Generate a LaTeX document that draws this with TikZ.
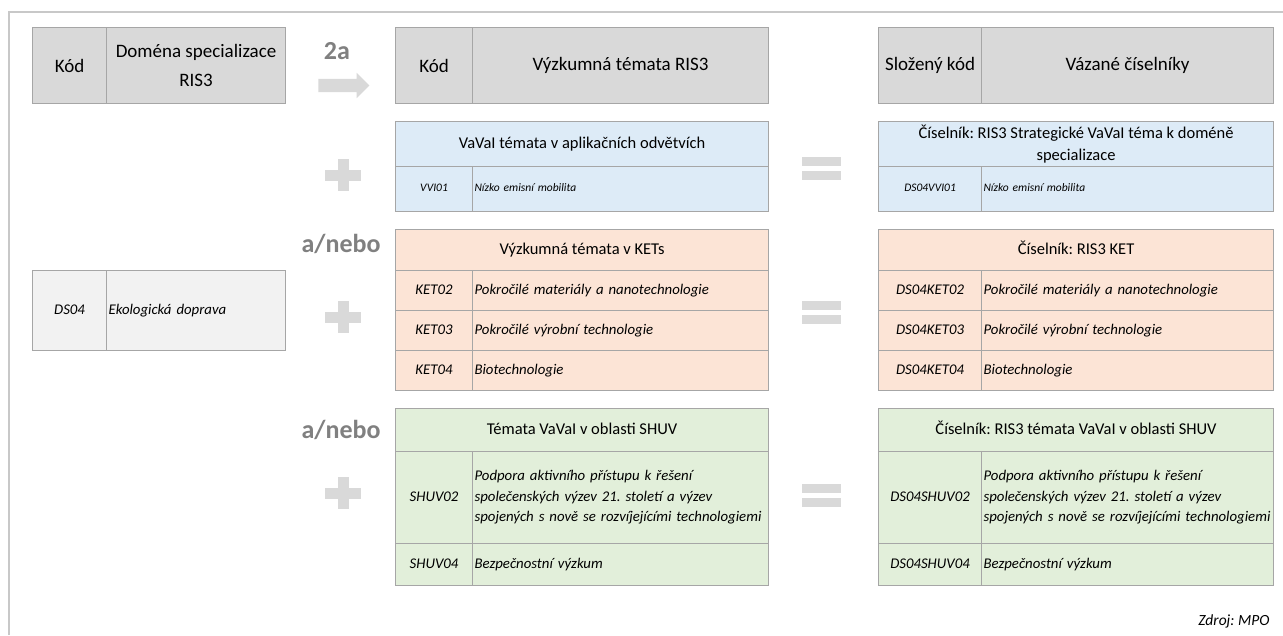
\documentclass[tikz,border=0pt]{standalone}
\usepackage{fontspec}
\setmainfont{Carlito}
\usepackage{xcolor}
\usepackage{tikz}
\usetikzlibrary{positioning,shapes.arrows}
\frenchspacing

\definecolor{framegray}{RGB}{200,200,200}
\definecolor{cellline}{RGB}{166,166,166}
\definecolor{headgray}{RGB}{217,217,217}
\definecolor{domaingray}{RGB}{242,242,242}
\definecolor{vviblue}{RGB}{221,235,247}
\definecolor{ketorange}{RGB}{252,228,214}
\definecolor{shuvgreen}{RGB}{226,239,218}
\definecolor{signgray}{RGB}{217,217,217}
\definecolor{wordgray}{RGB}{128,128,128}

\tikzset{
  cell/.style={draw=cellline, line width=1.1pt, anchor=north west, inner sep=0pt},
  headcell/.style={cell, fill=headgray, minimum height=76,
    font=\fontsize{19}{29}\selectfont, align=center},
  titlelines/.style={cell, font=\fontsize{16.5}{22}\selectfont, align=center},
  titlecell/.style={titlelines, text height=12.4pt, text depth=4.1pt},
  codecell/.style={cell, font=\fontsize{14.8}{20}\selectfont\itshape,
    text height=11pt, text depth=3.7pt},
  desclines/.style={cell, inner xsep=2pt, align=left,
    font=\fontsize{14.8}{20.5}\selectfont\itshape},
  desccell/.style={desclines, text height=11pt, text depth=3.7pt},
  smallcell/.style={font=\fontsize{11.5}{14}\selectfont\itshape,
    text height=8.6pt, text depth=2.9pt},
  sign/.style={fill=signgray},
  joinword/.style={text=wordgray, font=\fontsize{26}{26}\selectfont\bfseries}
}

\begin{document}
\begin{tikzpicture}[x=1pt, y=-1pt]
  \useasboundingbox (0,0) rectangle (1283,635);
  \fill[white] (0,0) rectangle (1283,635);

  % Frame
  \draw[framegray, line width=1.2pt] (9,635) -- (9,12) -- (1283,12);

  % Header row
  \node[headcell, minimum width=74] (dkod) at (32,27) {Kód};
  \node[headcell, minimum width=179] (dnazev) at (106,27) {Doména specializace\\RIS3};
  \node[headcell, minimum width=77] (tkod) at (395,27) {Kód};
  \node[headcell, minimum width=296] (tnazev) at (472,27) {Výzkumná témata RIS3};
  \node[headcell, minimum width=103] (skod) at (878,27) {Složený kód};
  \node[headcell, minimum width=292] (snazev) at (981,27) {Vázané číselníky};

  % 2a arrow
  \node[joinword] (step2a) at (337,51) {2a};
  \node[single arrow, sign, inner xsep=0pt, inner ysep=6.5pt, minimum height=51,
    minimum width=25, single arrow head extend=6pt] (arrow2a) at (340.5,85.5) {};

  % Domain
  \node[codecell, fill=domaingray, minimum width=74, minimum height=80] (ds04) at (32,270) {DS04};
  \node[desccell, fill=domaingray, text width=175, minimum height=80] (ds04n) at (106,270) {Ekologická doprava};

  % VaVaI themes (blue)
  \node[titlecell, fill=vviblue, minimum width=373, minimum height=45] (vvi) at (395,121)
    {VaVaI témata v aplikačních odvětvích};
  \node[codecell, smallcell, fill=vviblue, minimum width=77, minimum height=45] (vvi01) at (395,166) {VVI01};
  \node[desccell, smallcell, fill=vviblue, text width=292, minimum height=45] (vvi01n) at (472,166)
    {Nízko emisní mobilita};
  \node[titlelines, fill=vviblue, minimum width=395, minimum height=45] (cvvi) at (878,121)
    {Číselník: RIS3 Strategické VaVaI téma k doméně\\specializace};
  \node[codecell, smallcell, fill=vviblue, minimum width=103, minimum height=45] (cvvi01) at (878,166) {DS04VVI01};
  \node[desccell, smallcell, fill=vviblue, text width=288, minimum height=45] (cvvi01n) at (981,166)
    {Nízko emisní mobilita};

  % KETs (orange)
  \node[joinword] (anebo1) at (341,244) {a/nebo};
  \node[titlecell, fill=ketorange, minimum width=373, minimum height=41] (ket) at (395,229)
    {Výzkumná témata v KETs};
  \node[titlecell, fill=ketorange, minimum width=395, minimum height=41] (cket) at (878,229)
    {Číselník: RIS3 KET};
  \foreach \n/\y/\txt in {02/270/Pokročilé materiály a nanotechnologie,
                          03/310/Pokročilé výrobní technologie,
                          04/350/Biotechnologie} {
    \node[codecell, fill=ketorange, minimum width=77, minimum height=40] (ket\n) at (395,\y) {KET\n};
    \node[desccell, fill=ketorange, text width=292, minimum height=40] (ket\n n) at (472,\y) {\txt};
    \node[codecell, fill=ketorange, minimum width=103, minimum height=40] (cket\n) at (878,\y) {DS04KET\n};
    \node[desccell, fill=ketorange, text width=288, minimum height=40] (cket\n n) at (981,\y) {\txt};
  }

  % SHUV (green)
  \node[joinword] (anebo2) at (341,430) {a/nebo};
  \node[titlecell, fill=shuvgreen, minimum width=373, minimum height=43] (shuv) at (395,408)
    {Témata VaVaI v oblasti SHUV};
  \node[codecell, fill=shuvgreen, minimum width=77, minimum height=92] (shuv02) at (395,451) {SHUV02};
  \node[desclines, fill=shuvgreen, text width=292, minimum height=92] (shuv02n) at (472,451)
    {Podpora aktivního přístupu k řešení\\společenských výzev 21. století a výzev\\spojených s nově se rozvíjejícími technologiemi};
  \node[codecell, fill=shuvgreen, minimum width=77, minimum height=42] (shuv04) at (395,543) {SHUV04};
  \node[desccell, fill=shuvgreen, text width=292, minimum height=42] (shuv04n) at (472,543)
    {Bezpečnostní výzkum};
  \node[titlecell, fill=shuvgreen, minimum width=395, minimum height=43] (cshuv) at (878,408)
    {Číselník: RIS3 témata VaVaI v oblasti SHUV};
  \node[codecell, fill=shuvgreen, minimum width=103, minimum height=92] (cshuv02) at (878,451) {DS04SHUV02};
  \node[desclines, fill=shuvgreen, text width=288, minimum height=92] (cshuv02n) at (981,451)
    {Podpora aktivního přístupu k řešení\\společenských výzev 21. století a výzev\\spojených s nově se rozvíjejícími technologiemi};
  \node[codecell, fill=shuvgreen, minimum width=103, minimum height=42] (cshuv04) at (878,543) {DS04SHUV04};
  \node[desccell, fill=shuvgreen, text width=288, minimum height=42] (cshuv04n) at (981,543)
    {Bezpečnostní výzkum};

  % Plus and equals signs
  \foreach \y in {175,317,493} {
    \fill[sign] (325,\y-5.5) rectangle (361,\y+5.5);
    \fill[sign] (337.5,\y-16) rectangle (348.5,\y+16);
  }
  \foreach \y in {168,312,495.5} {
    \fill[sign] (802,\y-11.5) rectangle (841,\y-2.5);
    \fill[sign] (802,\y+2.5) rectangle (841,\y+11.5);
  }

  % Source
  \node[anchor=east, font=\fontsize{15.5}{15.5}\selectfont\itshape] (zdroj) at (1273,621) {Zdroj: MPO};
\end{tikzpicture}
\end{document}
